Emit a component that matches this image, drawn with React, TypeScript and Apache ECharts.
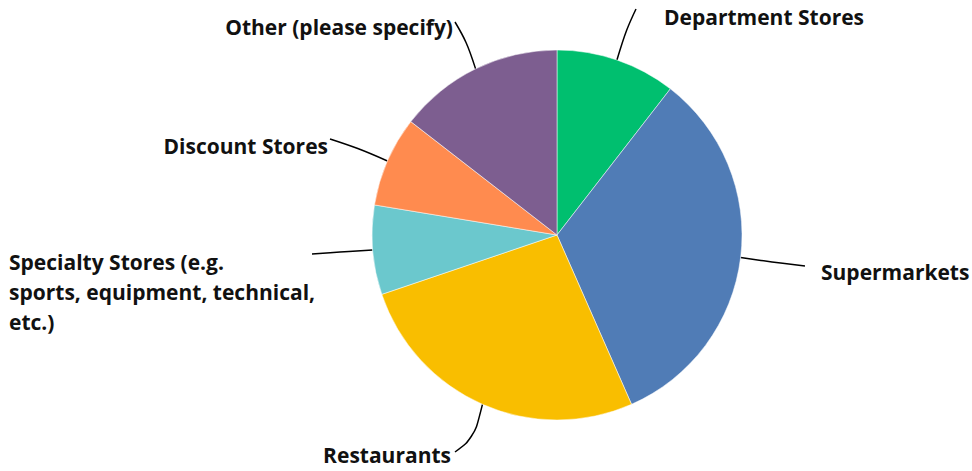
import React, { useEffect, useRef } from "react";
import * as echarts from "echarts";

const categories = [
  "Department Stores",
  "Supermarkets",
  "Restaurants",
  "Specialty Stores (e.g. sports, equipment, technical, etc.)",
  "Discount Stores",
  "Other (please specify)",
];
const values = [10.5, 32.9, 26.4, 7.8, 7.9, 14.5];
const colors = ["#00BF6F", "#507CB6", "#F9BE00", "#6BC8CD", "#FF8B4F", "#7D5E90"];
const labelTexts = [
  "Department Stores",
  "Supermarkets",
  "Restaurants",
  "Specialty Stores (e.g.\nsports, equipment, technical,\netc.)",
  "Discount Stores",
  "Other (please specify)",
];

// label placement (layout only)
const labelPlace = [
  { x: 664, y: 17, align: "left", va: "middle", mid: [626, 30], end: [636, 9] },
  { x: 821, y: 272, align: "left", va: "middle", mid: [772, 262], end: [805, 266] },
  { x: 451, y: 455, align: "right", va: "middle", mid: [474, 438], end: [455, 452] },
  { x: 9, y: 247, align: "left", va: "top", mid: [340, 252], end: [312, 254] },
  { x: 328, y: 146, align: "right", va: "middle", mid: [358, 148], end: [330, 139] },
  { x: 453, y: 27, align: "right", va: "middle", mid: [467, 42], end: [455, 22] },
];

export default function App() {
  const ref = useRef<HTMLDivElement>(null);
  useEffect(() => {
    if (!ref.current) return;
    const chart = echarts.init(ref.current, undefined, { renderer: "svg" });
    chart.setOption({
      animation: false,
      backgroundColor: "#ffffff",
      series: [
        {
          type: "pie",
          center: [557, 235],
          radius: 185,
          startAngle: 90,
          clockwise: true,
          avoidLabelOverlap: false,
          itemStyle: { borderColor: "#ffffff", borderWidth: 0.5 },
          label: {
            show: true,
            position: "outside",
            formatter: (p: any) => labelTexts[p.dataIndex],
            fontFamily: "Open Sans",
            fontWeight: 700,
            fontSize: 21,
            lineHeight: 22,
            color: "#111111",
          },
          labelLine: {
            show: true,
            smooth: 0.4,
            length: 20,
            length2: 20,
            lineStyle: { color: "#000000", width: 1.5 },
          },
          labelLayout: (params: any) => {
            const lp = labelPlace[params.dataIndex];
            const p0 = params.labelLinePoints ? params.labelLinePoints[0] : lp.mid;
            return {
              x: lp.x,
              y: lp.y,
              align: lp.align,
              verticalAlign: lp.va,
              labelLinePoints: [p0, lp.mid, lp.end],
            };
          },
          emphasis: { disabled: true },
          data: categories.map((c, i) => ({
            name: c,
            value: values[i],
            itemStyle: { color: colors[i] },
            label: i === 3 ? { lineHeight: 30 } : undefined,
          })),
        },
      ],
    });
    return () => chart.dispose();
  }, []);
  return (
    <div
      ref={ref}
      style={{ position: "absolute", left: 0, top: 0, width: 972, height: 471 }}
    />
  );
}
